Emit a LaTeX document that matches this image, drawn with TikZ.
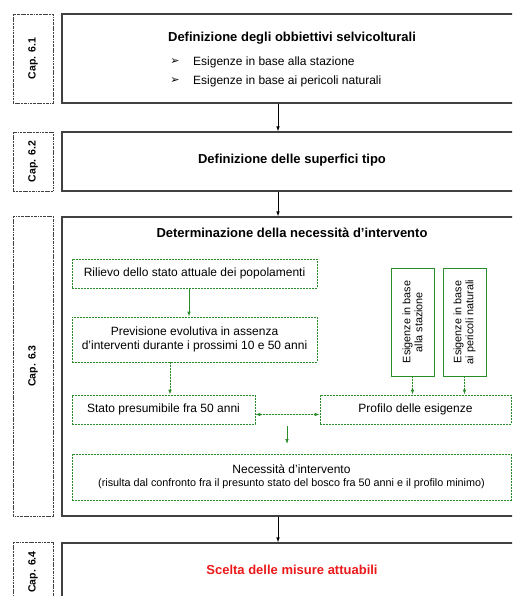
\documentclass[tikz,border=0pt]{standalone}
\usepackage{fontspec}
\setmainfont{Liberation Sans}
\newfontfamily\symfont{DejaVu Sans}
\usetikzlibrary{arrows.meta}
\definecolor{gruen}{RGB}{40,140,40}
\definecolor{rosso}{RGB}{235,25,25}
\definecolor{rand}{RGB}{65,65,65}
\begin{document}
\begin{tikzpicture}[x=1pt,y=-1pt,capbox/.style={draw=rand,line width=0.7pt,dash pattern=on 2.2pt off 0.8pt on 0.6pt off 0.8pt,minimum height=40pt,inner sep=0pt,rotate=90,font=\bfseries\fontsize{10.5}{12}\selectfont},mainbox/.style={draw=rand,line width=1.1pt,minimum width=460pt,inner sep=0pt},title/.style={font=\bfseries\fontsize{13}{15}\selectfont},body/.style={font=\fontsize{12}{14}\selectfont},gbox/.style={draw=gruen,line width=0.8pt,dash pattern=on 2pt off 1pt,inner sep=0pt,align=center,font=\fontsize{12}{14}\selectfont},gboxS/.style={gbox,solid},vbox/.style={gboxS,rotate=90,font=\fontsize{10.8}{12}\selectfont},arr/.style={-{Latex[length=5pt,width=3.6pt]},line width=0.8pt,draw=black},garr/.style={arr,draw=gruen,fill=gruen},gdarr/.style={garr,dash pattern=on 2pt off 1pt}]
\useasboundingbox (0,0) rectangle (512,596);
\clip (0,0) rectangle (512,596);
\coordinate (ax) at (278,0);
\coordinate (gx1) at (189,0);
\coordinate (gx2) at (170,0);

\node[capbox,minimum width=89pt] (c1) at (33,58.5) {Cap. 6.1};
\node[mainbox,minimum height=89pt] (b1) at (292,58.5) {};
\node[title] (t1) at (292,38) {Definizione degli obbiettivi selvicolturali};
\node[body] (p1) at (175,62) {\symfont\bfseries\fontsize{11}{12}\selectfont ➢};
\node[body,anchor=west,inner sep=0pt] (e1) at (193,62) {Esigenze in base alla stazione};
\node[body] (p2) at (175,81) {\symfont\bfseries\fontsize{11}{12}\selectfont ➢};
\node[body,anchor=west,inner sep=0pt] (e2) at (193,81) {Esigenze in base ai pericoli naturali};

\node[capbox,minimum width=59pt] (c2) at (33,161.5) {Cap. 6.2};
\node[mainbox,minimum height=59pt] (b2) at (292,161.5) {};
\node[title] (t2) at (292,160) {Definizione delle superfici tipo};
\draw[arr] (b1.south -| ax) -- (b2.north -| ax);

\node[capbox,minimum width=300pt] (c3) at (33,366) {Cap. 6.3};
\node[mainbox,minimum height=299pt] (b3) at (292,366.5) {};
\node[title] (t3) at (292,233) {Determinazione della necessità d'intervento};
\draw[arr] (b2.south -| ax) -- (b3.north -| ax);

\node[gbox,minimum width=245pt,minimum height=29pt] (ril) at (194.5,273.5) {Rilievo dello stato attuale dei popolamenti};
\node[gbox,minimum width=245pt,minimum height=45pt] (prev) at (194.5,339.5) {Previsione evolutiva in assenza\\d'interventi durante i prossimi 10 e 50 anni};
\node[vbox,minimum width=108pt,minimum height=43pt] (esa) at (412.5,322) {Esigenze in base\\alla stazione};
\node[vbox,minimum width=108pt,minimum height=43pt] (esb) at (464.5,322) {Esigenze in base\\ai pericoli naturali};
\node[gbox,minimum width=183pt,minimum height=29pt] (stato) at (163.5,409.5) {Stato presumibile fra 50 anni};
\node[gbox,minimum width=191pt,minimum height=29pt] (prof) at (415.5,409.5) {Profilo delle esigenze};
\node[gbox,minimum width=439pt,minimum height=46pt,font=\fontsize{12}{13}\selectfont] (nec) at (291.5,477) {Necessità d'intervento\\{\fontsize{10.8}{13}\selectfont(risulta dal confronto fra il presunto stato del bosco fra 50 anni e il profilo minimo)}};
\coordinate (m1) at (287,426);
\coordinate (m2) at (287,444);
\draw[garr] (ril.south -| gx1) -- (prev.north -| gx1);
\draw[gdarr] (prev.south -| gx2) -- (stato.north -| gx2);
\draw[gdarr] (esa.west) -- (esa.west |- prof.north);
\draw[gdarr] (esb.west) -- (esb.west |- prof.north);
\draw[gdarr,{Latex[length=5pt,width=3.6pt]}-{Latex[length=5pt,width=3.6pt]}] ([yshift=-5pt]stato.east) -- ([yshift=-5pt]prof.west);
\draw[garr] (m1) -- (m2);

\node[capbox,minimum width=60pt] (c4) at (33,572) {Cap. 6.4};
\node[mainbox,minimum height=108pt] (b4) at (292,597) {};
\node[title,text=rosso] (t4) at (292,570) {Scelta delle misure attuabili};
\draw[arr] (b3.south -| ax) -- (b4.north -| ax);
\end{tikzpicture}
\end{document}
